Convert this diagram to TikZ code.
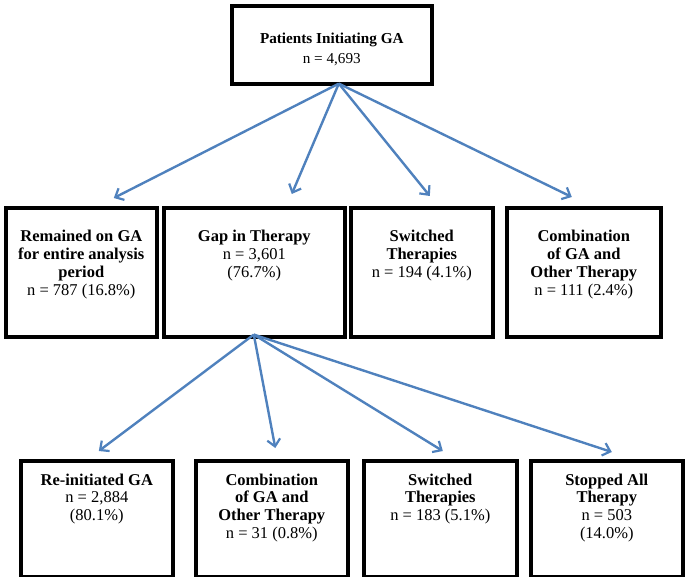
\documentclass[tikz,border=0pt]{standalone}
\usepackage{fontspec}
\setmainfont{Liberation Serif}
\usetikzlibrary{arrows.meta}
\definecolor{arrowblue}{RGB}{79,129,189}
\tikzset{
  box/.style={draw=black, line width=3.6pt, rectangle, inner sep=0pt, anchor=north west},
  boxtxt/.style={anchor=north, align=center, inner sep=0pt, font=\fontsize{16.5}{17.8}\selectfont},
  toptxt/.style={anchor=north, align=center, inner sep=0pt, font=\fontsize{15.2}{20}\selectfont},
  arr/.style={draw=arrowblue, line width=2.4pt, -{Straight Barb[length=7pt,width=13pt,line width=2.2pt]}}
}
\begin{document}
\begin{tikzpicture}[x=1pt,y=-1pt]
\useasboundingbox (0,0) rectangle (685,577);
% top
\node[box, minimum width=200pt, minimum height=78pt] (top) at (230,4) {};
\node[toptxt] (toptext) at ([yshift=-29pt]top.north) {\textbf{Patients Initiating GA}\\n = 4,693};
% row 2
\node[box, minimum width=151pt, minimum height=129pt] (A) at (4,206) {};
\node[box, minimum width=181pt, minimum height=129pt] (B) at (162,206) {};
\node[box, minimum width=142pt, minimum height=129pt] (C) at (349,206) {};
\node[box, minimum width=154pt, minimum height=129pt] (D) at (505,206) {};
\node[boxtxt] (Atext) at ([yshift=-24pt]A.north) {\textbf{Remained on GA}\\\textbf{for entire analysis}\\\textbf{period}\\n = 787 (16.8\%)};
\node[boxtxt] (Btext) at ([yshift=-24pt]B.north) {\textbf{Gap in Therapy}\\n = 3,601\\(76.7\%)};
\node[boxtxt] (Ctext) at ([yshift=-24pt]C.north) {\textbf{Switched}\\\textbf{Therapies}\\n = 194 (4.1\%)};
\node[boxtxt] (Dtext) at ([yshift=-24pt]D.north) {\textbf{Combination}\\\textbf{of GA and}\\\textbf{Other Therapy}\\n = 111 (2.4\%)};
% row 3
\node[box, minimum width=152pt, minimum height=116pt] (E) at (19,459) {};
\node[box, minimum width=152pt, minimum height=116pt] (F) at (194,459) {};
\node[box, minimum width=153pt, minimum height=116pt] (G) at (362,459) {};
\node[box, minimum width=152pt, minimum height=116pt] (H) at (529,459) {};
\node[boxtxt] (Etext) at ([yshift=-14.5pt]E.north) {\textbf{Re-initiated GA}\\n = 2,884\\(80.1\%)};
\node[boxtxt] (Ftext) at ([yshift=-14.5pt]F.north) {\textbf{Combination}\\\textbf{of GA and}\\\textbf{Other Therapy}\\n = 31 (0.8\%)};
\node[boxtxt] (Gtext) at ([yshift=-14.5pt]G.north) {\textbf{Switched}\\\textbf{Therapies}\\n = 183 (5.1\%)};
\node[boxtxt] (Htext) at ([yshift=-14.5pt]H.north) {\textbf{Stopped All}\\\textbf{Therapy}\\n = 503\\(14.0\%)};
% arrow ends
\coordinate (o1) at ([xshift=7pt,yshift=2pt]top.south);
\coordinate (tA) at ([xshift=32.5pt,yshift=8pt]A.north);
\coordinate (tB) at ([xshift=37.5pt,yshift=12pt]B.north);
\coordinate (tC) at ([xshift=8pt,yshift=10pt]C.north);
\coordinate (tD) at ([xshift=-12pt,yshift=9pt]D.north);
\coordinate (o2) at ([xshift=-0.5pt,yshift=4pt]B.south);
\coordinate (tE) at ([xshift=2pt,yshift=8pt]E.north);
\coordinate (tF) at ([xshift=3.5pt,yshift=11pt]F.north);
\coordinate (tG) at ([xshift=2.5pt,yshift=8pt]G.north);
\coordinate (tH) at ([xshift=5pt,yshift=7pt]H.north);
\draw[arr] (o1) -- (tA);
\draw[arr] (o1) -- (tB);
\draw[arr] (o1) -- (tC);
\draw[arr] (o1) -- (tD);
\draw[arr] (o2) -- (tE);
\draw[arr] (o2) -- (tF);
\draw[arr] (o2) -- (tG);
\draw[arr] (o2) -- (tH);
\end{tikzpicture}
\end{document}
